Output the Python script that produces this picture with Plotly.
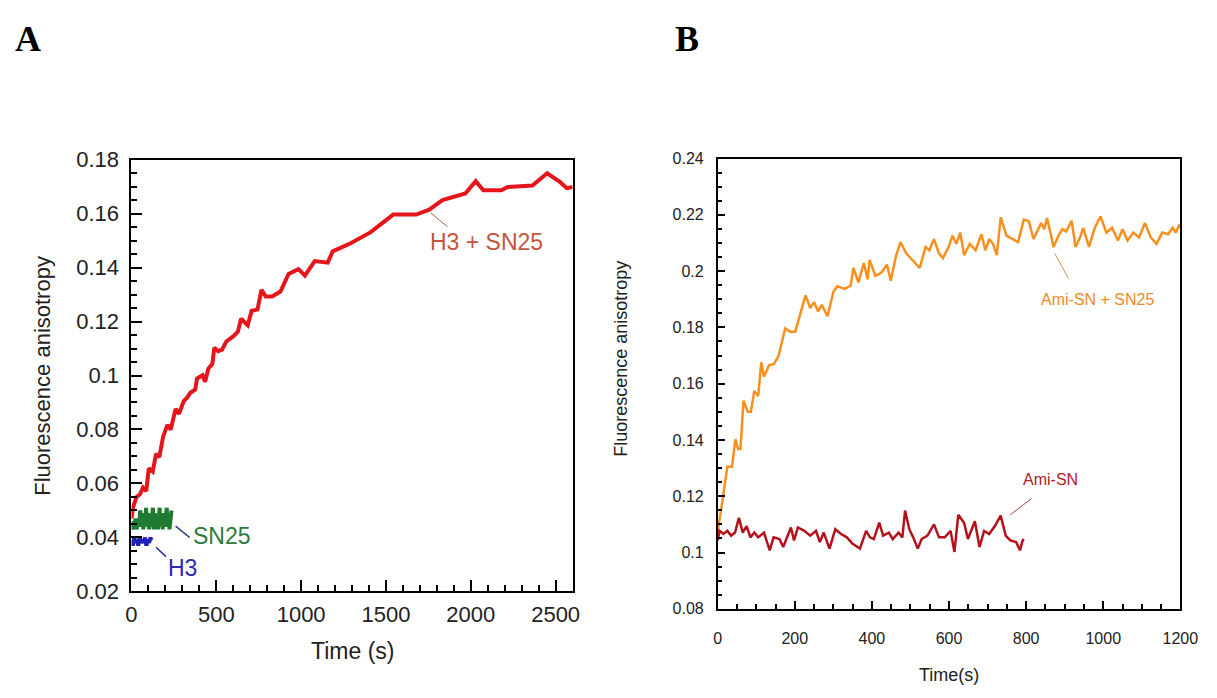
import plotly.graph_objects as go

# ---------------- Panel A data ----------------
h3sn25_t = [0, 10, 29, 50, 68, 87, 102, 125, 145, 164, 187, 212, 231, 260, 280, 309, 328, 347,
            376, 386, 419, 434, 453, 477, 488, 511, 534, 559, 598, 627, 646, 685, 708, 743, 766,
            791, 829, 878, 926, 984, 1022, 1080, 1157, 1186, 1292, 1408, 1543, 1678, 1755, 1833,
            1968, 2029, 2074, 2180, 2218, 2363, 2450, 2527, 2566, 2600]
h3sn25_v = [0.047, 0.0513, 0.0549, 0.056, 0.0585, 0.0572, 0.0656, 0.0644, 0.071, 0.0698, 0.0775,
            0.0817, 0.0799, 0.0876, 0.0858, 0.0906, 0.0918, 0.0936, 0.0948, 0.0989, 0.1001, 0.0977,
            0.1025, 0.1043, 0.1103, 0.109, 0.1096, 0.1126, 0.1144, 0.1162, 0.121, 0.1186, 0.1239,
            0.1245, 0.1317, 0.1293, 0.1293, 0.1311, 0.1376, 0.1394, 0.137, 0.1424, 0.1418, 0.146,
            0.149, 0.153, 0.1596, 0.1596, 0.1614, 0.165, 0.1674, 0.172, 0.1686, 0.1686, 0.1698,
            0.1704, 0.1749, 0.1716, 0.1694, 0.1698]

sn25_t = [0, 6, 12, 18, 24, 30, 36, 42, 48, 52, 58, 64, 70, 76, 82, 86, 92, 98, 104, 110, 116,
          122, 126, 132, 138, 144, 150, 156, 162, 166, 172, 178, 184, 190, 196, 202, 208, 212,
          218, 224, 230, 236]
sn25_v = [0.045, 0.043, 0.046, 0.044, 0.047, 0.043, 0.046, 0.044, 0.047, 0.050, 0.044, 0.048,
          0.043, 0.049, 0.044, 0.051, 0.044, 0.049, 0.043, 0.048, 0.044, 0.049, 0.051, 0.043,
          0.049, 0.044, 0.048, 0.043, 0.049, 0.051, 0.044, 0.048, 0.043, 0.049, 0.044, 0.048,
          0.051, 0.044, 0.049, 0.043, 0.048, 0.050]

h3_t = [0, 8, 16, 24, 32, 40, 48, 56, 64, 72, 80, 88, 96, 104, 112, 116]
h3_v = [0.039, 0.037, 0.040, 0.038, 0.039, 0.037, 0.040, 0.038, 0.039, 0.038, 0.040, 0.037,
        0.039, 0.038, 0.040, 0.039]

# ---------------- Panel B data ----------------
amisn25_t = [0, 2, 10, 19, 25, 37, 46, 53, 59, 67, 78, 86, 95, 105, 113, 120, 133, 146, 158, 175,
             188, 201, 210, 228, 240, 250, 260, 270, 285, 300, 310, 330, 345, 352, 365, 379, 389,
             394, 409, 424, 439, 449, 462, 474, 489, 504, 524, 539, 549, 561, 574, 584, 599, 609,
             619, 629, 639, 654, 669, 684, 694, 704, 714, 724, 734, 749, 764, 779, 794, 807, 819,
             829, 839, 847, 854, 864, 871, 884, 894, 904, 918, 928, 940, 948, 963, 978, 993, 1008,
             1023, 1038, 1050, 1063, 1078, 1093, 1108, 1123, 1138, 1153, 1168, 1180, 1188, 1198]
amisn25_v = [0.107, 0.1094, 0.1162, 0.1242, 0.1305, 0.1305, 0.1402, 0.1368, 0.1368, 0.154, 0.150,
             0.150, 0.1574, 0.1556, 0.1676, 0.1625, 0.1665, 0.167, 0.1699, 0.1796, 0.1785, 0.1785,
             0.183, 0.1914, 0.1869, 0.189, 0.1857, 0.188, 0.184, 0.1926, 0.1946, 0.1937, 0.1949,
             0.2011, 0.196, 0.2029, 0.1971, 0.204, 0.1983, 0.1994, 0.2023, 0.1966, 0.2051, 0.2103,
             0.2063, 0.204, 0.2011, 0.2086, 0.2074, 0.2114, 0.2063, 0.2046, 0.2086, 0.2126, 0.2097,
             0.2137, 0.2057, 0.2097, 0.2074, 0.2131, 0.2074, 0.2114, 0.2097, 0.2057, 0.2191,
             0.2126, 0.2114, 0.2103, 0.2183, 0.2177, 0.2114, 0.2143, 0.2171, 0.2149, 0.2189,
             0.2131, 0.2086, 0.2126, 0.2149, 0.2141, 0.2179, 0.2086, 0.212, 0.2154, 0.2086, 0.2154,
             0.2194, 0.2137, 0.2154, 0.2109, 0.2149, 0.2109, 0.2137, 0.212, 0.2171, 0.212, 0.2097,
             0.2137, 0.2131, 0.2154, 0.2137, 0.2166]

amisn_t = [0, 5, 15, 25, 35, 45, 55, 65, 75, 85, 95, 105, 120, 135, 145, 160, 170, 180, 190, 198,
           208, 225, 240, 255, 265, 275, 290, 305, 320, 335, 350, 369, 385, 395, 405, 419, 429,
           444, 454, 469, 479, 486, 497, 507, 519, 529, 544, 561, 574, 589, 604, 614, 624, 639,
           649, 667, 679, 691, 704, 719, 734, 747, 759, 774, 784, 791, 794]
amisn_v = [0.1043, 0.1077, 0.1066, 0.1077, 0.106, 0.1071, 0.1123, 0.1071, 0.1094, 0.1054, 0.1071,
           0.1054, 0.1071, 0.1008, 0.1054, 0.1048, 0.102, 0.1054, 0.1089, 0.1043, 0.1089, 0.1077,
           0.106, 0.1077, 0.1037, 0.1071, 0.1014, 0.1083, 0.1066, 0.1054, 0.1031, 0.1014, 0.1077,
           0.1054, 0.1048, 0.1106, 0.106, 0.1071, 0.1048, 0.1071, 0.1054, 0.1149, 0.1083, 0.1054,
           0.1014, 0.1048, 0.106, 0.11, 0.1054, 0.1054, 0.1077, 0.1002, 0.1134, 0.1106, 0.1048,
           0.1111, 0.102, 0.1077, 0.1066, 0.1094, 0.1131, 0.106, 0.1043, 0.1037, 0.1008, 0.1043,
           0.1048]

a_yticks = [0.02, 0.04, 0.06, 0.08, 0.10, 0.12, 0.14, 0.16, 0.18]
a_yticktext = ["0.02", "0.04", "0.06", "0.08", "0.1", "0.12", "0.14", "0.16", "0.18"]
a_xticks = [0, 500, 1000, 1500, 2000, 2500]
b_yticks = [0.08, 0.10, 0.12, 0.14, 0.16, 0.18, 0.20, 0.22, 0.24]
b_yticktext = ["0.08", "0.1", "0.12", "0.14", "0.16", "0.18", "0.2", "0.22", "0.24"]
b_xticks = [0, 200, 400, 600, 800, 1000, 1200]

W, H = 1217, 698
FA = "Liberation Sans, Arial, sans-serif"
FB = "Liberation Sans Narrow, Arial Narrow, Liberation Sans, Arial, sans-serif"
FL = "Liberation Serif, Times New Roman, serif"

fig = go.Figure()
fig.add_trace(go.Scatter(x=h3sn25_t, y=h3sn25_v, mode="lines", line=dict(color="#e4161b", width=4),
                         xaxis="x", yaxis="y", showlegend=False))
fig.add_trace(go.Scatter(x=h3_t, y=h3_v, mode="lines", line=dict(color="#1f1fb4", width=4),
                         xaxis="x", yaxis="y", showlegend=False))
fig.add_trace(go.Scatter(x=sn25_t, y=sn25_v, mode="lines", line=dict(color="#1f7a32", width=4),
                         xaxis="x", yaxis="y", showlegend=False))
fig.add_trace(go.Scatter(x=amisn25_t, y=amisn25_v, mode="lines", line=dict(color="#f7901e", width=2.5),
                         xaxis="x2", yaxis="y2", showlegend=False))
fig.add_trace(go.Scatter(x=amisn_t, y=amisn_v, mode="lines", line=dict(color="#b3121c", width=2.5),
                         xaxis="x2", yaxis="y2", showlegend=False))


def px(x):
    return x / W


def py(y):
    return 1 - y / H


axA = dict(showline=True, linecolor="black", linewidth=2, mirror=True, ticks="inside",
           tickcolor="black", tickwidth=2, ticklen=11, showgrid=False, zeroline=False,
           tickfont=dict(family=FA, size=22, color="#222"))
axB = dict(showline=True, linecolor="black", linewidth=1.5, mirror=True, ticks="inside",
           tickcolor="black", tickwidth=1.5, ticklen=8, showgrid=False, zeroline=False,
           tickfont=dict(family=FB, size=16, color="#222"))

fig.update_layout(
    width=W, height=H, margin=dict(l=0, r=0, t=0, b=0),
    paper_bgcolor="white", plot_bgcolor="white",
    xaxis=dict(axA, domain=[px(128), px(578)], range=[0, 2600], tickvals=a_xticks,
               minor=dict(dtick=100, ticks="inside", ticklen=6, tickwidth=2, tickcolor="black"),
               anchor="y", ticklabelstandoff=2),
    yaxis=dict(axA, domain=[py(601), py(153)], range=[0.02, 0.18], tickvals=a_yticks,
               ticktext=a_yticktext,
               minor=dict(dtick=0.005, ticks="inside", ticklen=6, tickwidth=2, tickcolor="black"),
               anchor="x", ticklabelstandoff=6),
    xaxis2=dict(axB, domain=[px(726), px(1198)], range=[0, 1200], tickvals=b_xticks,
                minor=dict(dtick=50, ticks="inside", ticklen=5, tickwidth=1.5, tickcolor="black"),
                anchor="y2", ticklabelstandoff=14),
    yaxis2=dict(axB, domain=[py(619), py(152)], range=[0.08, 0.24], tickvals=b_yticks,
                ticktext=b_yticktext,
                minor=dict(dtick=0.005, ticks="inside", ticklen=5, tickwidth=1.5, tickcolor="black"),
                anchor="x2", ticklabelstandoff=9),
)

C = dict(xanchor="center", yanchor="middle", showarrow=False)
ann = []
# panel letters
ann.append(dict(C, x=px(22), y=py(28), xref="paper", yref="paper", text="<b>A</b>",
                font=dict(family=FL, size=36, color="black")))
ann.append(dict(C, x=px(695), y=py(28), xref="paper", yref="paper", text="<b>B</b>",
                font=dict(family=FL, size=36, color="black")))
# axis titles
ann.append(dict(C, x=px(353), y=py(663), xref="paper", yref="paper", text="Time (s)",
                font=dict(family=FA, size=23, color="#222")))
ann.append(dict(C, x=px(37), y=py(377), xref="paper", yref="paper", text="Fluorescence anisotropy",
                textangle=-90, font=dict(family=FA, size=22, color="#222")))
ann.append(dict(C, x=px(962), y=py(688), xref="paper", yref="paper", text="Time(s)",
                font=dict(family=FB, size=18, color="#222")))
ann.append(dict(C, x=px(627), y=py(360), xref="paper", yref="paper", text="Fluorescence anisotropy",
                textangle=-90, font=dict(family=FA, size=18, color="#222")))
# series labels
ann.append(dict(C, x=2095, y=0.1493, xref="x", yref="y", text="H3 + SN25",
                font=dict(family=FA, size=23, color="#c4553c")))
ann.append(dict(C, x=532, y=0.0404, xref="x", yref="y", text="SN25",
                font=dict(family=FA, size=23, color="#2d7a3a")))
ann.append(dict(C, x=301, y=0.0286, xref="x", yref="y", text="H3",
                font=dict(family=FA, size=23, color="#2a2ab0")))
ann.append(dict(C, x=985, y=0.19, xref="x2", yref="y2", text="Ami-SN + SN25",
                font=dict(family=FB, size=16, color="#f08a2a")))
ann.append(dict(C, x=864, y=0.1261, xref="x2", yref="y2", text="Ami-SN",
                font=dict(family=FB, size=16, color="#b0202a")))
fig.update_layout(annotations=ann)

shapes = [
    dict(type="line", xref="x", yref="y", x0=1765, y0=0.1602, x1=1862, y1=0.1551,
         line=dict(color="#9a6050", width=1)),
    dict(type="line", xref="x", yref="y", x0=260, y0=0.0442, x1=343, y1=0.0400,
         line=dict(color="#2a3a7a", width=1.5)),
    dict(type="line", xref="x", yref="y", x0=145, y0=0.0364, x1=203, y1=0.0329,
         line=dict(color="#2a2ab0", width=1.5)),
    dict(type="line", xref="x2", yref="y2", x0=874, y0=0.2063, x1=910, y1=0.1974,
         line=dict(color="#d09050", width=1)),
    dict(type="line", xref="x2", yref="y2", x0=759, y0=0.1134, x1=814, y1=0.1192,
         line=dict(color="#b04040", width=1)),
]
fig.update_layout(shapes=shapes)

fig.write_html("out.html")
